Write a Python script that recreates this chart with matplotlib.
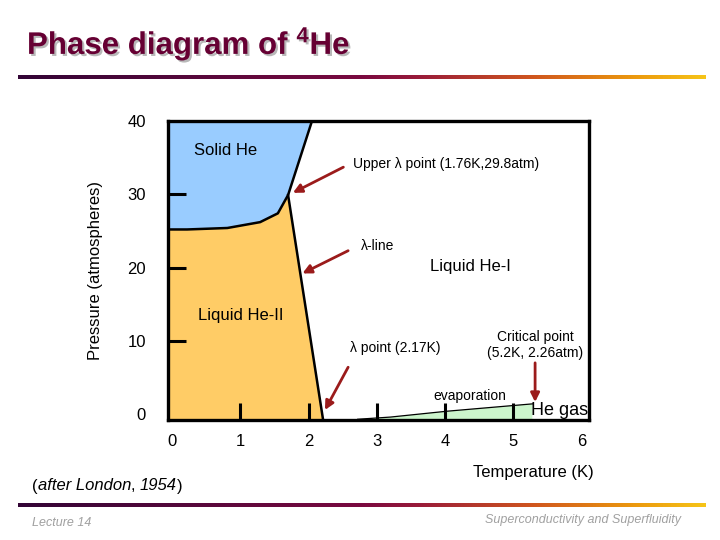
import numpy as np
import matplotlib
matplotlib.use("Agg")
import matplotlib.pyplot as plt
from matplotlib.colors import LinearSegmentedColormap
import matplotlib.patheffects as pe

plt.rcParams['font.family'] = ['Liberation Sans', 'DejaVu Sans']
plt.rcParams['mathtext.fontset'] = 'custom'
plt.rcParams['mathtext.rm'] = 'Liberation Sans'
plt.rcParams['mathtext.it'] = 'Liberation Sans:italic'
plt.rcParams['mathtext.bf'] = 'Liberation Sans:bold'

# ---- data ----
melting_T = [2.05, 1.70, 1.55, 1.29, 0.81, 0.22, -0.06]
melting_P = [40.0, 29.9, 27.4, 26.2, 25.4, 25.2, 25.2]
lambda_T = [1.70, 2.20]
lambda_P = [29.9, 0.0]
vapor_T = [2.72, 3.20, 4.03, 5.28]
vapor_P = [-0.7, -0.4, 0.4, 1.4]
x_ticks = [0, 1, 2, 3, 4, 5, 6]
y_ticks = [0, 10, 20, 30, 40]
x_marks = [1, 2, 3, 4, 5]
y_marks = [10, 20, 30]

XMIN, XMAX = -0.06, 6.11
YMIN, YMAX = -0.8, 40.0

BLUE = '#99ccff'
ORANGE = '#ffcc66'
GREEN = '#ccf5cc'
ARROW = '#9b1b1b'

fig = plt.figure(figsize=(7.2, 5.4), dpi=100)
ax = fig.add_axes([168/720, 1-420/540, 421/720, 299/540])
ax.set_xlim(XMIN, XMAX)
ax.set_ylim(YMIN, YMAX)

# lambda line extended to axis bottom
slope = (lambda_T[1]-lambda_T[0])/(lambda_P[1]-lambda_P[0])
lam_bot_T = lambda_T[1] + slope*(YMIN - lambda_P[1])

# solid region
solid_x = [XMIN, XMIN] + melting_T[::-1][1:] + [melting_T[0]]
solid_y = [YMAX, melting_P[-1]] + melting_P[::-1][1:] + [YMAX]
ax.fill(solid_x, solid_y, color=BLUE, lw=0, zorder=1)

# He II region
he2_x = [XMIN, XMIN, lam_bot_T, lambda_T[1], lambda_T[0]] + melting_T[2:]
he2_y = [melting_P[-1], YMIN, YMIN, lambda_P[1], lambda_P[0]] + melting_P[2:]
ax.fill(he2_x, he2_y, color=ORANGE, lw=0, zorder=1)

# gas/evaporation region
gx = vapor_T + [vapor_T[-1], vapor_T[0]]
gy = vapor_P + [YMIN, YMIN]
ax.fill(gx, gy, color=GREEN, lw=0, zorder=1)

ax.plot(melting_T, melting_P, color='black', lw=1.8, zorder=3)
ax.plot([lambda_T[0], lam_bot_T], [lambda_P[0], YMIN], color='black', lw=1.8, zorder=3)
ax.plot(vapor_T, vapor_P, color='black', lw=0.9, zorder=3)

for s in ax.spines.values():
    s.set_linewidth(2.4)
    s.set_zorder(5)

ax.xaxis.remove_overlapping_locs = False
ax.yaxis.remove_overlapping_locs = False
ax.set_xticks(x_ticks)
ax.set_xticklabels([str(v) for v in x_ticks])
ax.set_yticks(y_ticks)
ax.set_yticklabels([str(v) for v in y_ticks])
ax.tick_params(axis='both', which='major', length=0, labelsize=12)
ax.tick_params(axis='x', which='major', pad=10)
ax.tick_params(axis='y', which='major', pad=16)
ax.set_xticks(x_marks, minor=True)
ax.set_yticks(y_marks, minor=True)
ax.tick_params(axis='x', which='minor', direction='in', length=12.5, width=2.2, color='black')
ax.tick_params(axis='y', which='minor', direction='in', length=13, width=2.2, color='black')
for t in ax.xaxis.get_minor_ticks() + ax.yaxis.get_minor_ticks():
    t.tick1line.set_zorder(6)

ax.set_ylabel('Pressure (atmospheres)', fontsize=12)
ax.yaxis.set_label_coords(-0.154, 0.5)
ax.set_xlabel('Temperature (K)', fontsize=12)
ax.xaxis.set_label_coords(0.867, -0.152)

# labels
ax.text(0.79, 36.0, 'Solid He', fontsize=12, ha='center', va='center')
ax.text(2.65, 34.2, 'Upper λ point (1.76K,29.8atm)', fontsize=10, ha='left', va='center')
ax.text(2.76, 22.9, 'λ-line', fontsize=10, ha='left', va='center')
ax.text(4.37, 20.1, 'Liquid He-I', fontsize=12, ha='center', va='center')
ax.text(1.01, 13.4, 'Liquid He-II', fontsize=12, ha='center', va='center')
ax.text(3.27, 9.0, 'λ point (2.17K)', fontsize=10, ha='center', va='center')
ax.text(5.32, 9.4, 'Critical point\n(5.2K, 2.26atm)', fontsize=10, ha='center', va='center', linespacing=1.15)
ax.text(4.37, 2.5, 'evaporation', fontsize=10, ha='center', va='center')
ax.text(5.26, 0.56, 'He gas', fontsize=13, ha='left', va='center', zorder=6)

arrows = [((2.51, 33.7), (1.77, 30.2)),
          ((2.58, 22.3), (1.91, 19.2)),
          ((2.58, 6.4), (2.24, 0.56)),
          ((5.32, 7.0), (5.32, 1.65))]
for tail, head in arrows:
    ax.annotate('', xy=head, xytext=tail,
                arrowprops=dict(arrowstyle='-|>', color=ARROW, lw=2.0,
                                mutation_scale=13, shrinkA=0, shrinkB=0), zorder=6)

# title
fig.text(27/720, 1-44/540, r'Phase diagram of $^{\mathbf{4}}$He', fontsize=22.5,
         fontweight='bold', color='#660033', ha='left', va='center',
         path_effects=[pe.withSimplePatchShadow(offset=(1.5, -1.5), shadow_rgbFace='#b8b8b8', alpha=1.0)])

# gradient bars
cmap = LinearSegmentedColormap.from_list('bar', [(0, '#330536'), (0.5, '#7a0a40'), (0.58, '#981a3a'),
                                                 (0.75, '#d0561e'), (0.9, '#ec9a0e'), (1, '#f6c418')])
grad = np.linspace(0, 1, 512).reshape(1, -1)
for ytop in (75, 503):
    bax = fig.add_axes([18/720, 1-(ytop+4)/540, 688/720, 4/540])
    bax.imshow(grad, aspect='auto', cmap=cmap)
    bax.set_axis_off()

# "(after London, 1954)" with italic words and upright punctuation
renderer = fig.canvas.get_renderer()
x_px = 32.0
y_fig = 1-486/540
for piece, sty in [('(', 'normal'), ('after London', 'italic'), (',', 'normal'), ('1954', 'italic'), (')', 'normal')]:
    t = fig.text(x_px/720, y_fig, piece, fontsize=12, style=sty, ha='left', va='center')
    bb = t.get_window_extent(renderer=renderer)
    x_px = bb.x1 + (4.5 if piece == ',' else 0.0)

fig.text(32/720, 1-523/540, 'Lecture 14', fontsize=9, style='italic', color='#a0a0a0', ha='left', va='center')
fig.text(681/720, 1-520/540, 'Superconductivity and Superfluidity', fontsize=9, style='italic',
         color='#a0a0a0', ha='right', va='center')

fig.savefig('out.png', dpi=100)
